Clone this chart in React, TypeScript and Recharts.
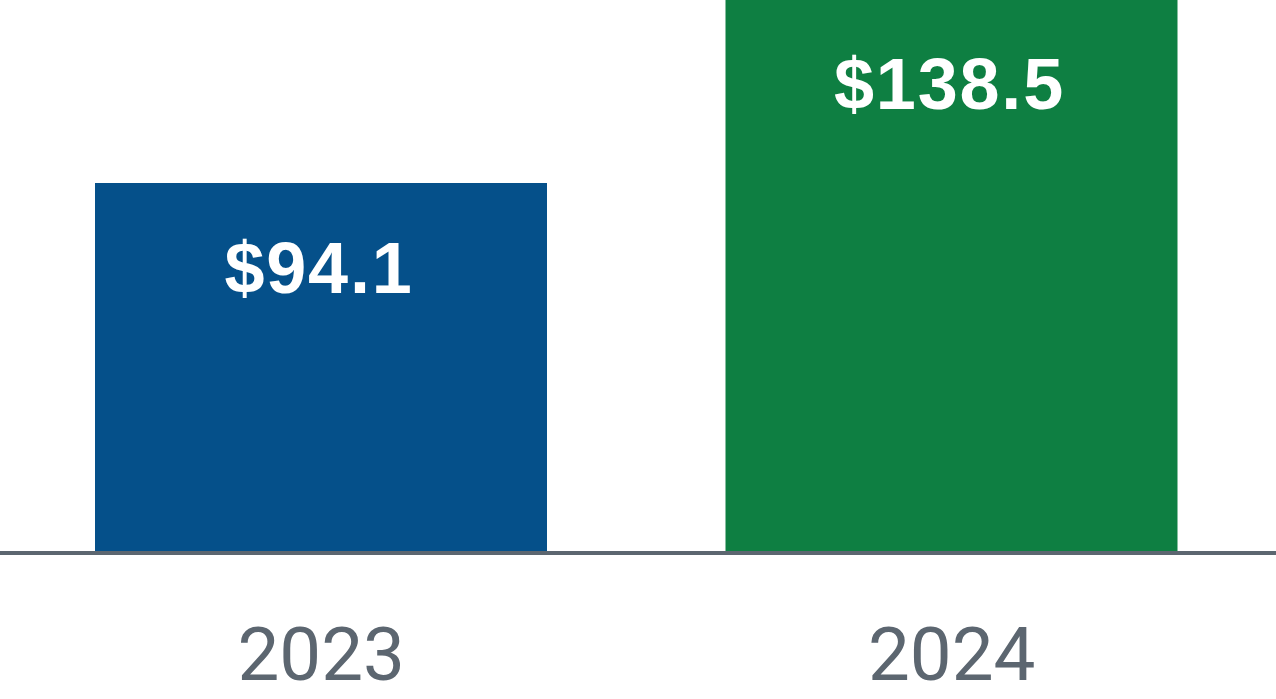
import React from 'react';
import { BarChart, Bar, XAxis, YAxis, Cell, LabelList } from 'recharts';

const years = ['2023', '2024'];
const revenue = [94.1, 138.5];
const valueLabels = ['$94.1', '$138.5'];
const barColors = ['#05508A', '#0E7F42'];

const data = years.map((y, i) => ({ year: y, value: revenue[i], label: valueLabels[i] }));

const AXIS_GRAY = '#5C6670';

const YearTick = (props: any) => {
  const { x, y, payload } = props;
  return (
    <text
      x={x}
      y={y + 127}
      textAnchor="middle"
      fontFamily="Roboto"
      fontSize={74.5}
      fill={AXIS_GRAY}
    >
      {payload.value}
    </text>
  );
};

const ValueLabel = (props: any) => {
  const { x, y, width, value } = props;
  return (
    <text
      x={Number(x) + Number(width) / 2 - 2}
      y={Number(y) + 110}
      textAnchor="middle"
      fontFamily="'Liberation Sans', Arial, sans-serif"
      fontWeight="bold"
      fontSize={72}
      letterSpacing={1.8}
      fill="#FFFFFF"
    >
      {value}
    </text>
  );
};

export default function App() {
  return (
    <div style={{ position: 'absolute', left: 0, top: 0, width: 1276, height: 699, background: '#fff' }}>
      <BarChart
        width={1276}
        height={699}
        data={data}
        margin={{ top: 0, right: 0, bottom: 0, left: 0 }}
        barSize={452}
      >
        <YAxis hide type="number" domain={[5, 138.2]} allowDataOverflow />
        <Bar dataKey="value" isAnimationActive={false}>
          {data.map((d, i) => (
            <Cell key={d.year} fill={barColors[i]} />
          ))}
          <LabelList dataKey="label" content={<ValueLabel />} />
        </Bar>
        <XAxis
          dataKey="year"
          axisLine={{ stroke: AXIS_GRAY, strokeWidth: 4 }}
          tickLine={false}
          tickSize={0}
          tickMargin={0}
          height={146}
          interval={0}
          padding={{ left: 6, right: 9 }}
          tick={<YearTick />}
        />
      </BarChart>
    </div>
  );
}
